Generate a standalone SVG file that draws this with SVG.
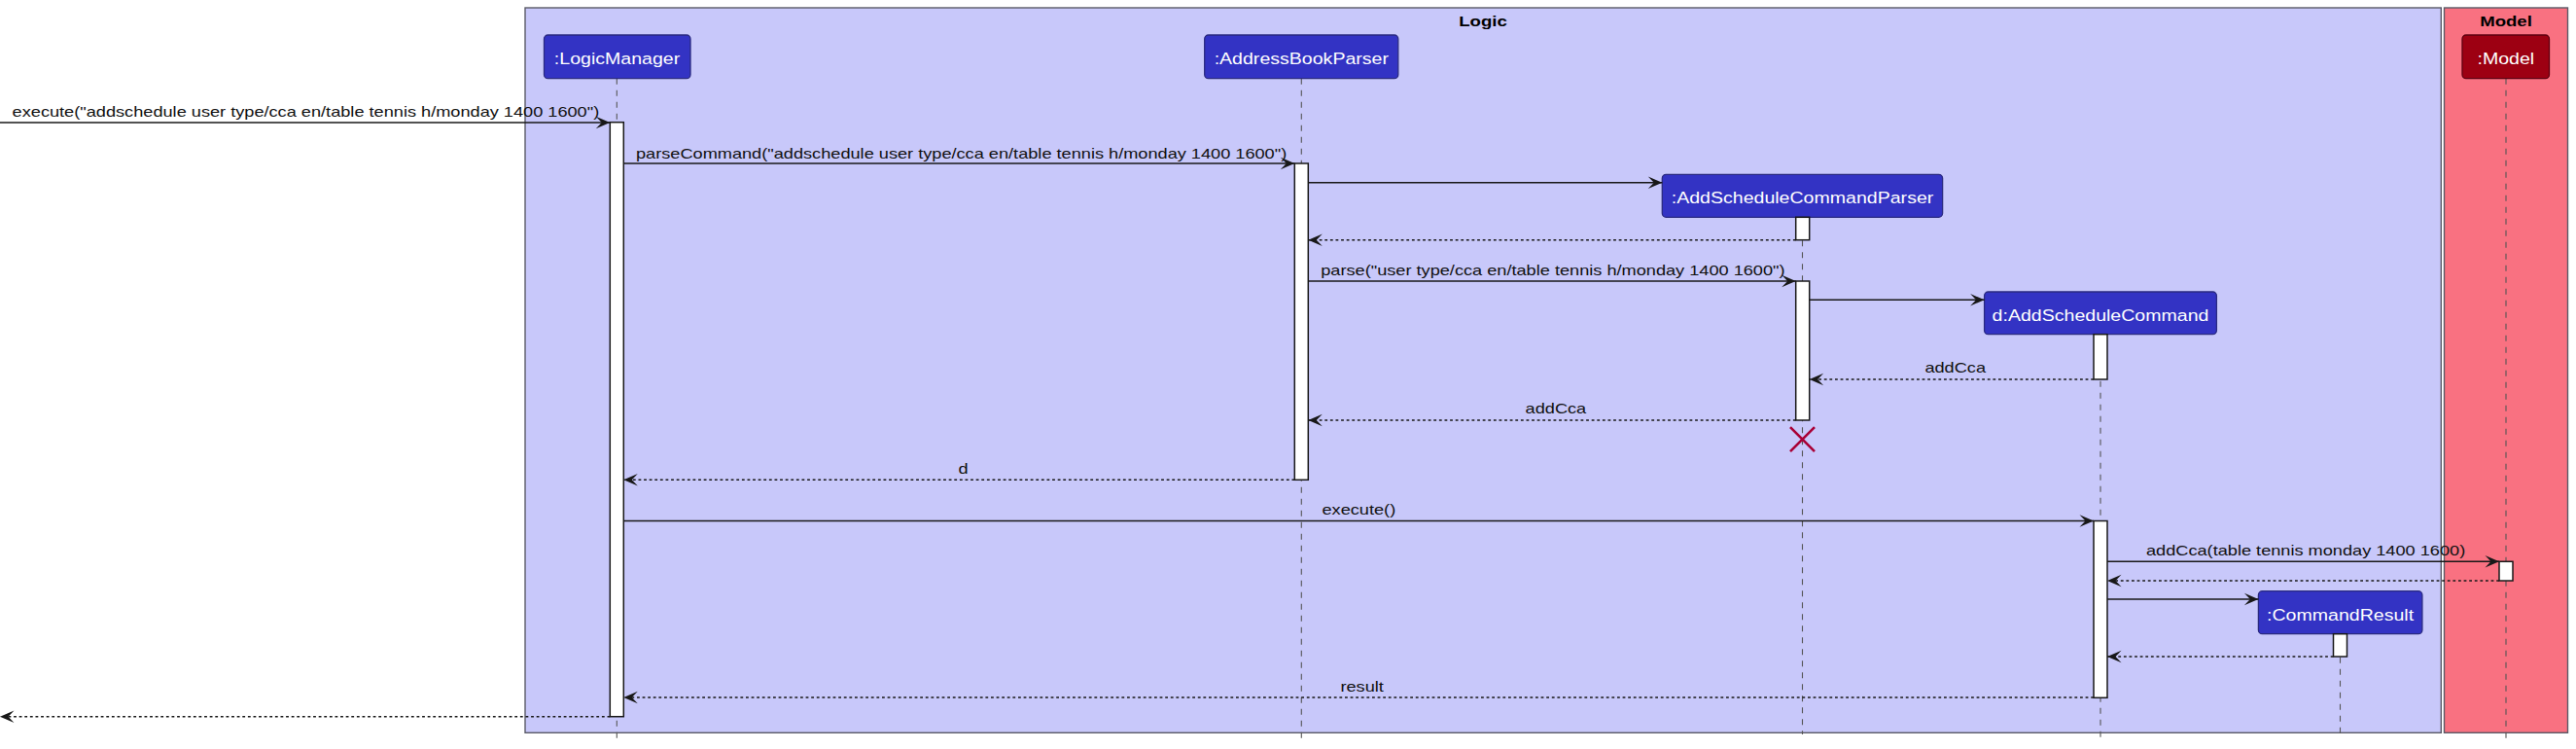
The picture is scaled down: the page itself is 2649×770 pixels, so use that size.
<svg xmlns="http://www.w3.org/2000/svg" width="2649" height="770" viewBox="0 0 2649 770">
<style>
text{font-family:"Liberation Sans",Arial,sans-serif;}
.msg{font-size:15.15px;fill:#111111;}
.ptxt{font-size:16.3px;fill:#FFFFFF;text-anchor:middle;}
.title{font-size:15.5px;font-weight:bold;fill:#000000;text-anchor:middle;}
.lframe{fill:#C8C8FA;stroke:#5A5A66;stroke-width:1.4;}
.mframe{fill:#F97181;stroke:#5A5A66;stroke-width:1.4;}
.lp{fill:#3333C4;stroke:#2A2A80;stroke-width:1.3;}
.mp{fill:#9D0012;stroke:#5E0010;stroke-width:1.3;}
.life{stroke:#555555;stroke-width:1.1;stroke-dasharray:6,6;fill:none;}
.act{fill:#FFFFFF;stroke:#181818;stroke-width:1.5;}
.call{stroke:#181818;stroke-width:1.5;fill:none;marker-end:url(#ah);}
.ret{stroke:#181818;stroke-width:1.5;stroke-dasharray:2.8,2.8;fill:none;marker-end:url(#ah);}
.destroy{stroke:#A80036;stroke-width:2.6;fill:none;}
</style>
<defs>
<marker id="ah" markerUnits="userSpaceOnUse" orient="auto" markerWidth="20" markerHeight="16" refX="15" refY="8" viewBox="0 0 20 16" overflow="visible">
<path d="M15,8 L0.5,1.8 L6.5,8 L0.5,14.2 Z" fill="#181818" stroke="none"/>
</marker>
</defs>

<g id="frame-logic">
<rect class="lframe" x="540" y="8" width="1970.3" height="745.3"/>
<text class="title" transform="translate(1525 26.5) scale(1.2 1)">Logic</text>
</g>
<g id="frame-model">
<rect class="mframe" x="2513.5" y="8" width="127" height="745.3"/>
<text class="title" transform="translate(2577 26.5) scale(1.2 1)">Model</text>
</g>

<g id="lifelines">
<line class="life" x1="634.3" y1="80.7" x2="634.3" y2="761.7"/>
<line class="life" x1="1338.3" y1="80.7" x2="1338.3" y2="761.7"/>
<line class="life" x1="1853.5" y1="223.3" x2="1853.5" y2="755"/>
<line class="life" x1="2160" y1="343.7" x2="2160" y2="761.7"/>
<line class="life" x1="2406.5" y1="651.7" x2="2406.5" y2="755"/>
<line class="life" x1="2577" y1="80.7" x2="2577" y2="761.7"/>
</g>

<g id="LogicManager">
<rect class="lp" x="559.5" y="36" width="150.5" height="44.7" rx="4"/>
<text class="ptxt" transform="translate(634.5 66) scale(1.2 1)">:LogicManager</text>
<rect class="act" x="627.3" y="125.7" width="14" height="611"/>
</g>
<g id="AddressBookParser">
<rect class="lp" x="1238.7" y="36" width="199.1" height="44.7" rx="4"/>
<text class="ptxt" transform="translate(1338.3 66) scale(1.2 1)">:AddressBookParser</text>
<rect class="act" x="1331.3" y="168" width="14" height="325.3"/>
</g>
<g id="AddScheduleCommandParser">
<rect class="lp" x="1709.3" y="179.3" width="288.3" height="44" rx="4"/>
<text class="ptxt" transform="translate(1853.5 209.3) scale(1.2 1)">:AddScheduleCommandParser</text>
<rect class="act" x="1846.7" y="223.3" width="14" height="23.4"/>
<rect class="act" x="1846.7" y="289" width="14" height="143"/>
<path class="destroy" d="M1841,439.2 L1866,464.2 M1866,439.2 L1841,464.2"/>
</g>
<g id="AddScheduleCommand">
<rect class="lp" x="2040.6" y="300" width="238.8" height="43.7" rx="4"/>
<text class="ptxt" transform="translate(2160 330) scale(1.2 1)">d:AddScheduleCommand</text>
<rect class="act" x="2153" y="343.7" width="14" height="46.3"/>
<rect class="act" x="2153" y="535.5" width="14" height="181.8"/>
</g>
<g id="CommandResult">
<rect class="lp" x="2322.4" y="607.7" width="168.5" height="44" rx="4"/>
<text class="ptxt" transform="translate(2406.6 637.7) scale(1.2 1)">:CommandResult</text>
<rect class="act" x="2399.5" y="651.7" width="14" height="23.3"/>
</g>
<g id="Model">
<rect class="mp" x="2532" y="36" width="89.5" height="44.7" rx="4"/>
<text class="ptxt" transform="translate(2576.8 66) scale(1.2 1)">:Model</text>
<rect class="act" x="2570" y="577.3" width="14" height="19.7"/>
</g>

<g id="connectors">
<line class="call" x1="0" y1="126" x2="627.3" y2="126"/>
<text class="msg" transform="translate(12.6 120) scale(1.2 1)">execute("addschedule user type/cca en/table tennis h/monday 1400 1600")</text>

<line class="call" x1="641.3" y1="168" x2="1331.3" y2="168"/>
<text class="msg" transform="translate(654 162.5) scale(1.2 1)">parseCommand("addschedule user type/cca en/table tennis h/monday 1400 1600")</text>

<line class="call" x1="1345.3" y1="187.7" x2="1709.3" y2="187.7"/>
<line class="ret" x1="1846.7" y1="246.7" x2="1345.3" y2="246.7"/>

<line class="call" x1="1345.3" y1="289" x2="1846.7" y2="289"/>
<text class="msg" transform="translate(1358.2 282.5) scale(1.2 1)">parse("user type/cca en/table tennis h/monday 1400 1600")</text>

<line class="call" x1="1860.7" y1="308.3" x2="2040.6" y2="308.3"/>

<line class="ret" x1="2153" y1="390" x2="1860.7" y2="390"/>
<text class="msg" transform="translate(1979.4 383) scale(1.2 1)">addCca</text>

<line class="ret" x1="1846.7" y1="432" x2="1345.3" y2="432"/>
<text class="msg" transform="translate(1568.6 425) scale(1.2 1)">addCca</text>

<line class="ret" x1="1331.3" y1="493.3" x2="641.3" y2="493.3"/>
<text class="msg" transform="translate(985.6 486.7) scale(1.2 1)">d</text>

<line class="call" x1="641.3" y1="535.5" x2="2153" y2="535.5"/>
<text class="msg" transform="translate(1359.5 529.3) scale(1.2 1)">execute()</text>

<line class="call" x1="2167" y1="577.3" x2="2570" y2="577.3"/>
<text class="msg" transform="translate(2207 571) scale(1.2 1)">addCca(table tennis monday 1400 1600)</text>

<line class="ret" x1="2570" y1="597" x2="2167" y2="597"/>

<line class="call" x1="2167" y1="616" x2="2322.4" y2="616"/>

<line class="ret" x1="2399.5" y1="675" x2="2167" y2="675"/>

<line class="ret" x1="2153" y1="717" x2="641.3" y2="717"/>
<text class="msg" transform="translate(1378.4 711) scale(1.2 1)">result</text>

<line class="ret" x1="627.3" y1="736.7" x2="0" y2="736.7"/>
</g>
</svg>
